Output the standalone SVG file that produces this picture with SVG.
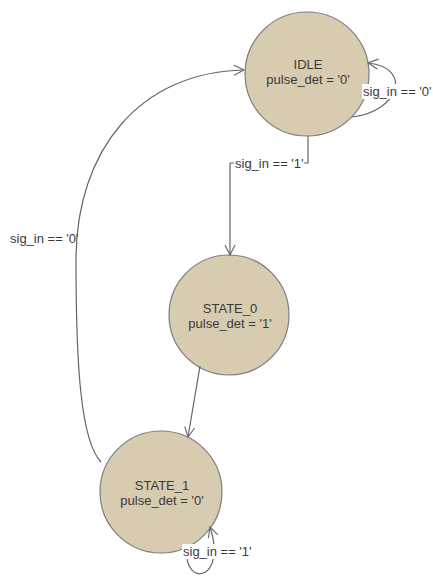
<svg xmlns="http://www.w3.org/2000/svg" width="433" height="576" viewBox="0 0 433 576">
  <style>
    .state { fill: #d7cbb0; stroke: #7d7d7d; stroke-width: 1.2; }
    .name { font-family: "Liberation Sans", Arial, sans-serif; font-size: 13px; fill: #3a3a3a; text-anchor: middle; }
    .edge { fill: none; stroke: #666; stroke-width: 1.2; }
    .lbl { font-family: "Liberation Sans", Arial, sans-serif; font-size: 13px; fill: #3a3a3a; }
    .lblbg { fill: #fff; }
  </style>
  <defs>
    <marker id="arrow" viewBox="0 0 12 12" refX="11" refY="6" markerWidth="12" markerHeight="12" markerUnits="userSpaceOnUse" orient="auto">
      <path d="M1,1 L11,6 L1,11" fill="none" stroke="#666" stroke-width="1.1"/>
    </marker>
  </defs>
  <rect width="433" height="576" fill="#fff"/>

  <!-- states -->
  <g id="idle">
    <circle class="state" cx="307" cy="74" r="62"/>
    <text class="name" x="308" y="69">IDLE</text>
    <text class="name" x="308" y="84">pulse_det = '0'</text>
  </g>
  <g id="state_0">
    <circle class="state" cx="229" cy="315" r="60"/>
    <text class="name" x="230" y="313">STATE_0</text>
    <text class="name" x="230" y="328">pulse_det = '1'</text>
  </g>
  <g id="state_1">
    <circle class="state" cx="161" cy="492" r="61"/>
    <text class="name" x="162" y="490">STATE_1</text>
    <text class="name" x="162" y="505">pulse_det = '0'</text>
  </g>

  <!-- transitions -->
  <g id="connectors">
    <!-- IDLE -> STATE_0 -->
    <path class="edge" d="M308,136 L308,163 L230,163 L230,255" marker-end="url(#arrow)"/>
    <rect class="lblbg" x="234" y="156" width="70" height="15"/>
    <text class="lbl" x="235" y="168">sig_in == '1'</text>

    <!-- STATE_0 -> STATE_1 -->
    <path class="edge" d="M200,366 L188,437" marker-end="url(#arrow)"/>

    <!-- STATE_1 -> IDLE -->
    <path class="edge" d="M101,462 C80,440 76,360 76,260 C76,150 140,72 244,70" marker-end="url(#arrow)"/>
    <text class="lbl" x="10" y="243">sig_in == '0'</text>

    <!-- IDLE self loop -->
    <path class="edge" d="M352,117 C398,112 414,68 368,63" marker-end="url(#arrow)"/>
    <rect class="lblbg" x="362" y="84" width="71" height="15"/>
    <text class="lbl" x="363" y="96">sig_in == '0'</text>

    <!-- STATE_1 self loop -->
    <path class="edge" d="M187,547 C182,588 228,582 210,527" marker-end="url(#arrow)"/>
    <rect class="lblbg" x="182" y="544" width="71" height="15"/>
    <text class="lbl" x="183" y="556">sig_in == '1'</text>
  </g>
</svg>
